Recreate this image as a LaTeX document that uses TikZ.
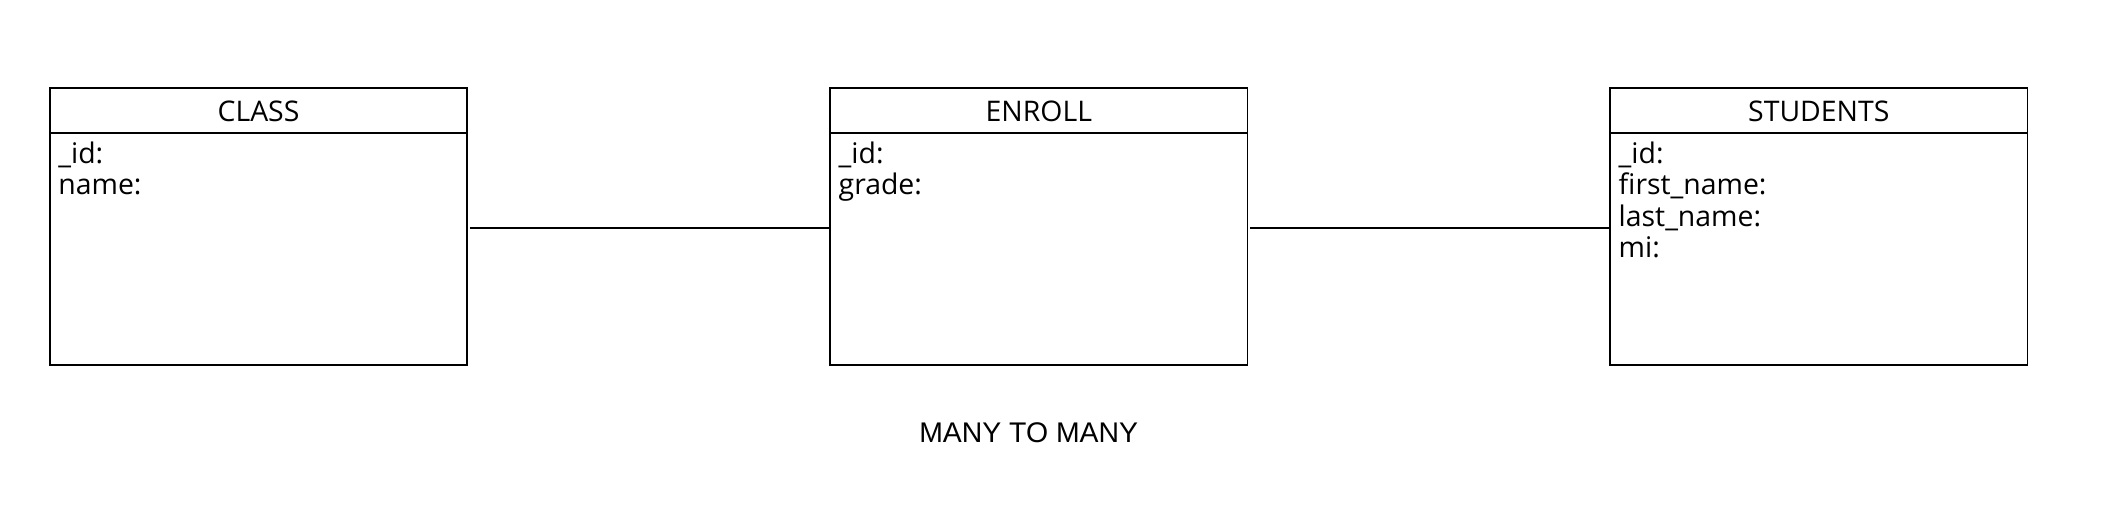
\documentclass[tikz,border=0pt]{standalone}
\usepackage{fontspec}
\setmainfont{Open Sans}
\newfontfamily\arialfont{Liberation Sans}
\usetikzlibrary{calc}
\begin{document}
\begin{tikzpicture}[x=0.5pt,y=-0.5pt,
  entity/.style={draw, line width=0.8pt, rectangle, inner sep=0pt, anchor=north west,
                 minimum width=208.7pt, minimum height=138.5pt},
  sep/.style={line width=0.8pt},
  title/.style={anchor=base, inner sep=0pt, font=\fontsize{14.2pt}{17pt}\selectfont},
  field/.style={anchor=base west, inner sep=0pt, font=\fontsize{14.2pt}{17pt}\selectfont},
  link/.style={line width=0.8pt},
  caption/.style={anchor=base, inner sep=0pt, font=\arialfont\fontsize{14.2pt}{17pt}\selectfont}]
\useasboundingbox (0,0) rectangle (2108,520);
\fill[white] (0,0) rectangle (2108,520);

% boxes
\node[entity] (class) at (49,87.3) {};
\node[entity] (enroll) at (829.3,87.3) {};
\node[entity] (students) at (1609.3,87.3) {};

% header separators and titles
\foreach \b/\t in {class/CLASS, enroll/ENROLL, students/STUDENTS}{
  \draw[sep] ($(\b.north west)+(0,45.7)$) -- ($(\b.north east)+(0,45.7)$);
  \node[title] (\b-title) at ($(\b.north)+(0,34.4)$) {\t};
}

% fields
\node[field] (class-f1) at ($(class.north west)+(9,76)$) {\_id:};
\node[field] (class-f2) at ($(class.north west)+(9,107.4)$) {name:};

\node[field] (enroll-f1) at ($(enroll.north west)+(9,76)$) {\_id:};
\node[field] (enroll-f2) at ($(enroll.north west)+(9,107.4)$) {grade:};

\node[field] (students-f1) at ($(students.north west)+(9,76)$) {\_id:};
\node[field] (students-f2) at ($(students.north west)+(9,107.4)$) {first\_name:};
\node[field] (students-f3) at ($(students.north west)+(9,138.8)$) {last\_name:};
\node[field] (students-f4) at ($(students.north west)+(9,170.2)$) {mi:};

% connectors
\draw[link] ($(class.east)+(1.5,1.5)$) -- ($(enroll.west)+(0,1.5)$);
\draw[link] ($(enroll.east)+(1.5,1.5)$) -- ($(students.west)+(0,1.5)$);

% caption
\node[caption] (cap) at (1028.7,442.3) {MANY TO MANY};
\end{tikzpicture}
\end{document}
